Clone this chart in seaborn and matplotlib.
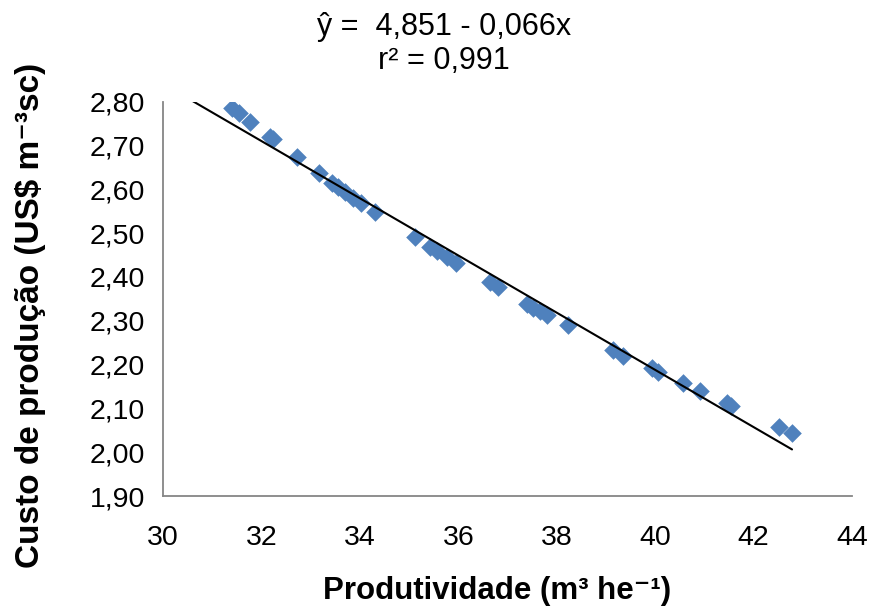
import numpy as np
import pandas as pd
import matplotlib
matplotlib.use("Agg")
import matplotlib.pyplot as plt
from matplotlib.ticker import FuncFormatter, MultipleLocator
import seaborn as sns

# productivity (m3/ha) and production cost (US$/m3)
produtividade = [31.40, 31.54, 31.77, 32.17, 32.24, 32.72, 33.17, 33.43, 33.56,
                 33.70, 33.86, 34.02, 34.31, 35.12, 35.43, 35.57, 35.77, 35.96,
                 36.65, 36.81, 37.40, 37.52, 37.66, 37.80, 38.23, 39.15, 39.35,
                 39.94, 40.06, 40.57, 40.91, 41.46, 41.54, 42.52, 42.78]
custo = [2.786, 2.774, 2.754, 2.719, 2.715, 2.674, 2.637, 2.614, 2.605,
         2.594, 2.580, 2.569, 2.548, 2.491, 2.468, 2.459, 2.445, 2.432,
         2.388, 2.377, 2.338, 2.329, 2.322, 2.313, 2.290, 2.233, 2.220,
         2.192, 2.183, 2.158, 2.140, 2.112, 2.105, 2.057, 2.044]

equation_text = "ŷ =  4,851 - 0,066x\nr² = 0,991"
x_label = "Produtividade (m³ he⁻¹)"
y_label = "Custo de produção (US$ m⁻³sc)"

df = pd.DataFrame({"x": produtividade, "y": custo})

sns.set_theme(style="white")
plt.rcParams["font.family"] = ["Liberation Sans", "DejaVu Sans"]
plt.rcParams["text.color"] = "black"

fig = plt.figure(figsize=(8.7, 6.12), dpi=100)
ax = fig.add_axes([0.1874, 0.1895, 0.7920, 0.6443])

sns.scatterplot(data=df, x="x", y="y", marker="D", s=90, color="#4F81BD",
                edgecolor="#4F81BD", linewidth=0, ax=ax, zorder=2)

# linear trend line (least squares), clipped by the axis limits
slope, intercept = np.polyfit(df["x"], df["y"], 1)
xs = np.array([30.0, df["x"].max()])
ax.plot(xs, intercept + slope * xs, color="black", lw=1.5, zorder=3)

ax.set_xlim(30, 44)
ax.set_ylim(1.90, 2.80)
ax.xaxis.set_major_locator(MultipleLocator(2))
ax.yaxis.set_major_locator(MultipleLocator(0.1))
ax.yaxis.set_major_formatter(FuncFormatter(lambda v, p: f"{v:.2f}".replace(".", ",")))
ax.xaxis.set_major_formatter(FuncFormatter(lambda v, p: f"{v:.0f}"))

for side in ["top", "right"]:
    ax.spines[side].set_visible(False)
for side in ["left", "bottom"]:
    ax.spines[side].set_color("#868686")
    ax.spines[side].set_linewidth(1.3)
ax.tick_params(axis="both", which="major", direction="out", length=7, width=1.3,
               color="#868686", labelsize=20.5, labelcolor="black", pad=6)
ax.tick_params(axis="x", pad=14)

ax.set_xlabel(x_label, fontsize=22.5, fontweight="bold", color="black")
ax.set_ylabel(y_label, fontsize=24, fontweight="bold", color="black")
ax.xaxis.set_label_coords(0.485, -0.203)
ax.yaxis.set_label_coords(-0.170, 0.459)

fig.text(0.51, 0.98, equation_text, ha="center", va="top", fontsize=22,
         color="black", linespacing=1.15)

fig.savefig("out.png", dpi=100)
